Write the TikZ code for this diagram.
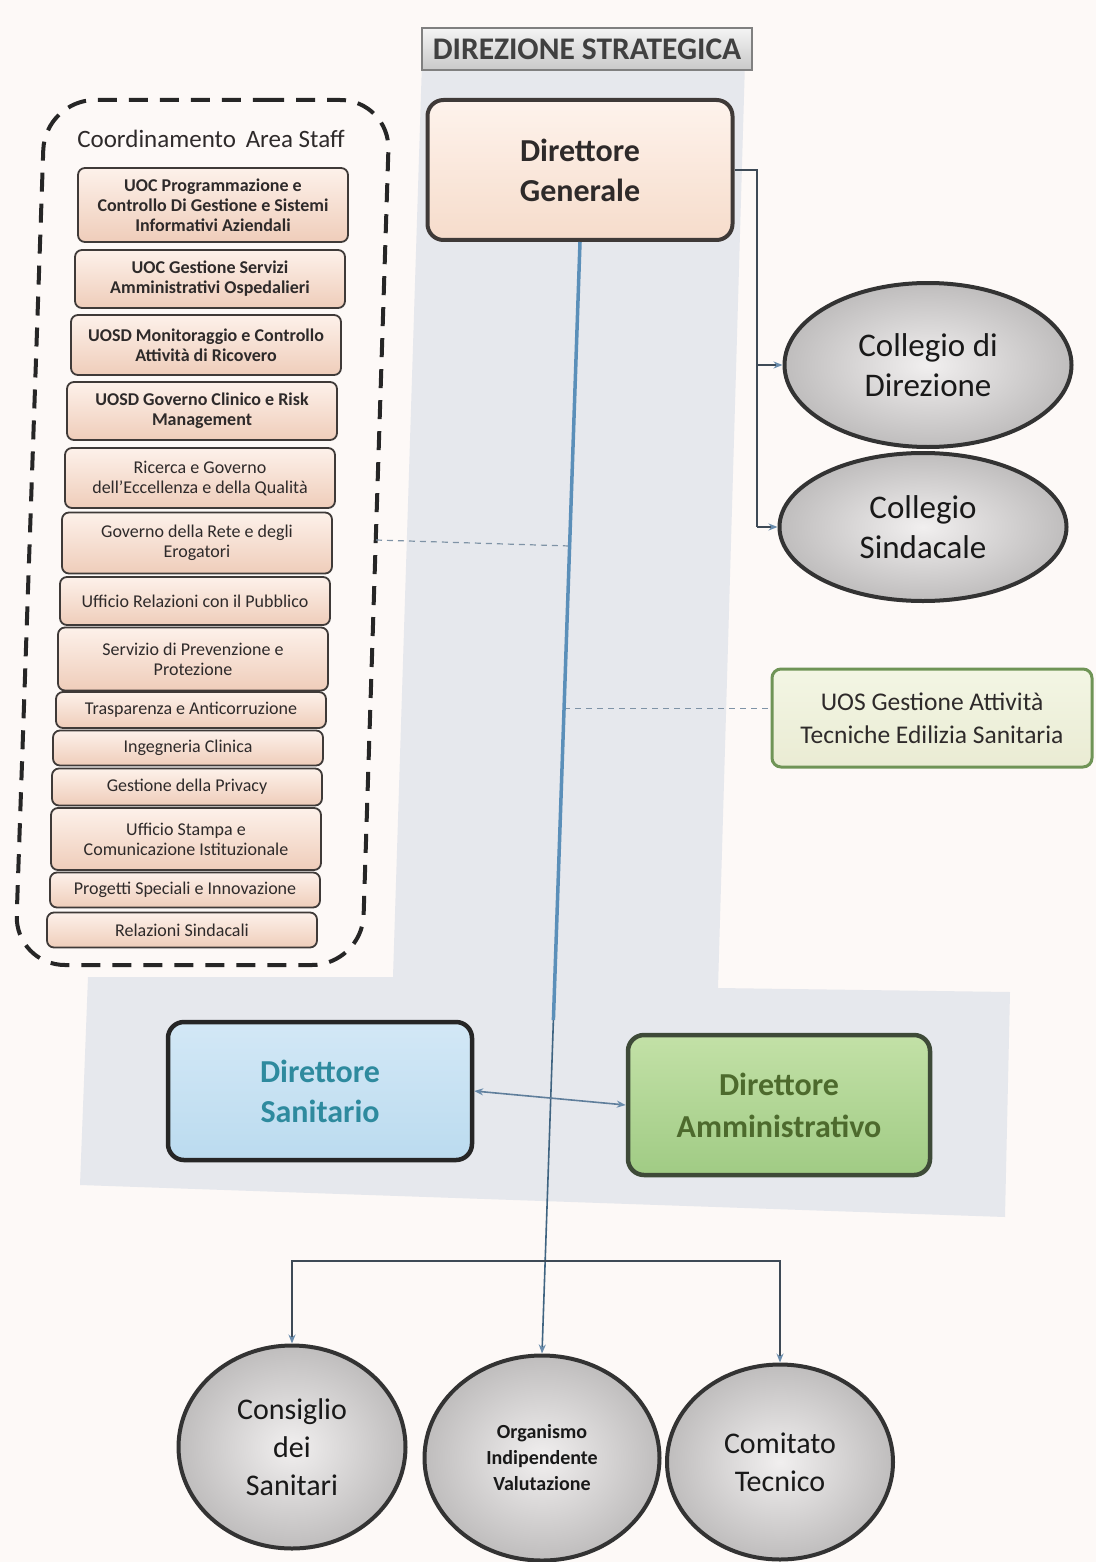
\documentclass[tikz,border=0pt]{standalone}
\usepackage{fontspec}
\setmainfont{Carlito}
\usetikzlibrary{calc,arrows.meta,shapes.geometric}
\definecolor{pagebg}{HTML}{FDF9F7}
\definecolor{regionbg}{HTML}{E6E8ED}
\definecolor{mainblue}{HTML}{5B8FB9}
\definecolor{linedark}{HTML}{3E4A56}
\definecolor{arrowc}{HTML}{6A8CAC}
\definecolor{dashc}{HTML}{7F93A6}
\definecolor{peachtop}{HTML}{FDF1EA}
\definecolor{peachbot}{HTML}{EFCDBA}
\definecolor{itemborder}{HTML}{3F3A38}
\definecolor{textdark}{HTML}{2E2A2A}
\definecolor{dgtop}{HTML}{FEF3EC}
\definecolor{dgbot}{HTML}{F6DCCB}
\definecolor{dsfill}{HTML}{BBDBEF}
\definecolor{dstop}{HTML}{D3E8F6}
\definecolor{dstext}{HTML}{2E8A9E}
\definecolor{datop}{HTML}{C3E1A7}
\definecolor{dabot}{HTML}{A0CB84}
\definecolor{datext}{HTML}{4D6A2D}
\definecolor{daborder}{HTML}{3E4A38}
\definecolor{elin}{HTML}{F1EFEF}
\definecolor{elout}{HTML}{BFBDBD}
\definecolor{uosfill}{HTML}{F3F6E4}
\definecolor{uosborder}{HTML}{6F9456}
\definecolor{hdrtop}{HTML}{F4F4F4}
\definecolor{hdrbot}{HTML}{C9C9C9}
\begin{document}
\begin{tikzpicture}[x=1pt,y=-1pt,
  staffitem/.style={draw=itemborder, line width=1.8pt, rounded corners=7pt,
    top color=peachtop, bottom color=peachbot, minimum width=270pt,
    inner sep=0pt, align=center, text=textdark,
    font=\fontsize{18}{20}\selectfont},
  staffbold/.style={staffitem, font=\fontsize{18}{20}\selectfont\bfseries},
  dgbox/.style={draw=itemborder, line width=4pt, rounded corners=16pt,
    top color=dgtop, bottom color=dgbot, minimum width=305pt, minimum height=140pt,
    align=center, text=textdark, font=\fontsize{32}{40}\selectfont\bfseries},
  dsbox/.style={draw=black!85, line width=4.5pt, rounded corners=16pt,
    top color=dstop, bottom color=dsfill, minimum width=304pt, minimum height=138pt,
    align=center, text=dstext, font=\fontsize{32}{40}\selectfont\bfseries},
  dabox/.style={draw=daborder, line width=4.5pt, rounded corners=16pt,
    top color=datop, bottom color=dabot, minimum width=302pt, minimum height=140pt,
    align=center, text=datext, font=\fontsize{32}{42}\selectfont\bfseries},
  oval/.style={ellipse, draw=black!80, line width=4pt, inner color=elin, outer color=elout,
    inner sep=0pt, align=center, text=black!90},
  uosbox/.style={draw=uosborder, line width=3pt, rounded corners=9pt,
    top color=uosfill, bottom color=uosfill!80!olive!60, minimum width=320pt, minimum height=98pt,
    align=center, text=textdark, font=\fontsize{25.5}{33}\selectfont},
  hdrbox/.style={draw=black!50, line width=1.5pt, top color=hdrtop, bottom color=hdrbot,
    minimum width=330pt, minimum height=42pt, inner sep=0pt, text=black!75,
    font=\fontsize{31.5}{32}\selectfont\bfseries},
  conn/.style={draw=linedark, line width=1.4pt},
  tip/.style={-{Stealth[length=9pt,width=7pt,color=arrowc]}},
  dashline/.style={draw=dashc, line width=1.2pt, dash pattern=on 6pt off 5pt},
  mainline/.style={draw=mainblue, line width=3.5pt},
]
\useasboundingbox (0,0) rectangle (1096,1562);
\fill[pagebg] (0,0) rectangle (1096,1562);
% light background region
\fill[regionbg] (422,62) -- (745,62) -- (718,988) -- (1010,992) -- (1005,1217)
  -- (80,1185) -- (88,977) -- (393,977) -- cycle;

% header
\node[hdrbox] (hdr) at (587,49) {DIREZIONE STRATEGICA};

% staff area
\draw[line width=4pt, dash pattern=on 19pt off 12pt, draw=black!85, rounded corners=50pt]
  (215,100) -- (390,100) -- (362,965) -- (15,965) -- (45,100) -- cycle;
\coordinate (staffR) at (376,540);
\node[font=\fontsize{25}{28}\selectfont, text=textdark] (stafftitle) at (211,139) {Coordinamento\, Area Staff};

\node[staffbold, minimum height=74pt] (s1) at (213,205) {UOC Programmazione e\\Controllo Di Gestione e Sistemi\\Informativi Aziendali};
\node[staffbold, minimum height=58pt] (s2) at (210,279) {UOC Gestione Servizi\\Amministrativi Ospedalieri};
\node[staffbold, minimum height=60pt] (s3) at (206,345) {UOSD Monitoraggio e Controllo\\Attività di Ricovero};
\node[staffbold, minimum height=58pt] (s4) at (202,411) {UOSD Governo Clinico e Risk\\Management};
\node[staffitem, minimum height=60pt] (s5) at (200,478) {Ricerca e Governo\\dell’Eccellenza e della Qualità};
\node[staffitem, minimum height=61pt] (s6) at (197,543) {Governo della Rete e degli\\Erogatori};
\node[staffitem, minimum height=48pt] (s7) at (195,601) {Ufficio Relazioni con il Pubblico};
\node[staffitem, minimum height=63pt] (s8) at (193,659) {Servizio di Prevenzione e\\Protezione};
\node[staffitem, minimum height=36pt] (s9) at (191,710) {Trasparenza e Anticorruzione};
\node[staffitem, minimum height=35pt] (s10) at (188,748) {Ingegneria Clinica};
\node[staffitem, minimum height=37pt] (s11) at (187,787) {Gestione della Privacy};
\node[staffitem, minimum height=62pt] (s12) at (186,839) {Ufficio Stampa e\\Comunicazione Istituzionale};
\node[staffitem, minimum height=35pt] (s13) at (185,890) {Progetti Speciali e Innovazione};
\node[staffitem, minimum height=35pt] (s14) at (182,930) {Relazioni Sindacali};

% main nodes
\node[dgbox] (dg) at (580,170) {Direttore\\Generale};
\node[oval, minimum width=287pt, minimum height=164pt, font=\fontsize{33}{40}\selectfont] (cd) at (928,365) {Collegio di\\Direzione};
\node[oval, minimum width=287pt, minimum height=148pt, font=\fontsize{33}{40}\selectfont] (cs) at (923,527) {Collegio\\Sindacale};
\node[uosbox] (uos) at (932,718) {UOS Gestione Attività\\Tecniche Edilizia Sanitaria};
\node[dsbox] (ds) at (320,1091) {Direttore\\Sanitario};
\node[dabox] (da) at (779,1105) {Direttore\\Amministrativo};
\node[oval, minimum width=227pt, minimum height=203pt, font=\fontsize{30}{38}\selectfont] (cds) at (292,1447) {Consiglio\\dei\\Sanitari};
\node[oval, minimum width=235pt, minimum height=205pt, font=\fontsize{20}{26}\selectfont\bfseries] (oiv) at (542,1458) {Organismo\\Indipendente\\Valutazione};
\node[oval, minimum width=226pt, minimum height=195pt, font=\fontsize{30}{38}\selectfont] (ct) at (780,1462) {Comitato\\Tecnico};

% points on the main line
\coordinate (mStaff) at ($(dg.south)!0.2735!(oiv.north)$);
\coordinate (mUOS)   at ($(dg.south)!0.4197!(oiv.north)$);
\coordinate (mEnd)   at ($(dg.south)!0.70!(oiv.north)$);
\coordinate (bj)     at ($(dg.south)!0.9166!(oiv.north)$);

% right connectors
\coordinate (rtop) at (757,170);
\coordinate (rmid) at (757,365);
\coordinate (rbot) at (757,527);
\draw[conn] (dg.east) -- (rtop) -- (rbot);
\draw[conn, tip] (rmid) -- (cd.west);
\draw[conn, tip] (rbot) -- (cs.west);

% dashed links
\draw[dashline] (staffR) -- (mStaff);
\draw[dashline] (mUOS) -- (uos.west |- mUOS);

% main vertical line
\draw[mainline] (dg.south) -- (mEnd);
\draw[draw=mainblue!70!black, line width=1.6pt, tip] (mEnd) -- (oiv.north);

% DS <-> DA
\draw[draw=arrowc!90!black, line width=1.6pt,
  {Stealth[length=9pt,width=7pt,color=arrowc]}-{Stealth[length=9pt,width=7pt,color=arrowc]}]
  (ds.east) -- (da.west);

% bottom branches
\draw[conn, tip] (bj) -| (cds.north);
\draw[conn, tip] (bj) -| (ct.north);
\end{tikzpicture}
\end{document}
